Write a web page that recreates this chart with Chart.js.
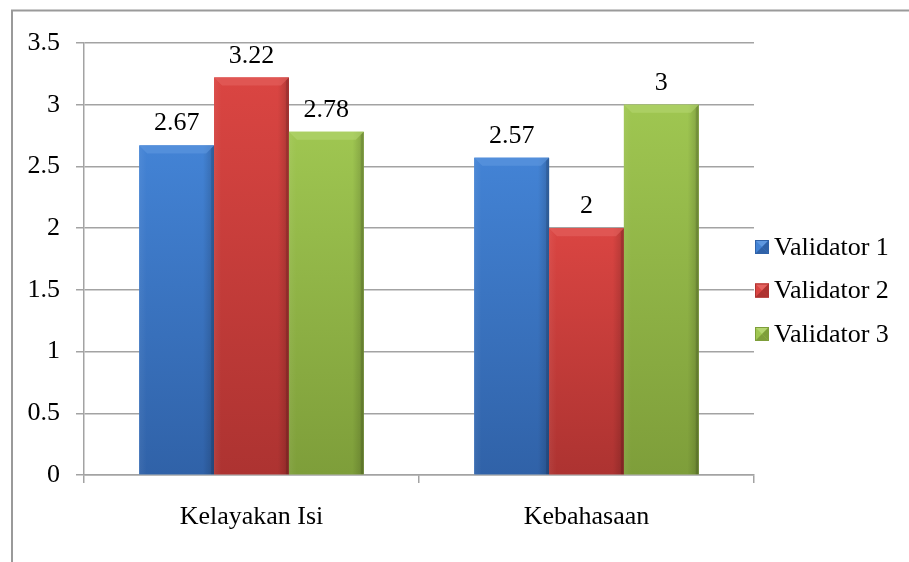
<!DOCTYPE html>
<html lang="id">
<head>
<meta charset="UTF-8" />
<title>Hasil Validasi</title>
<script src="https://cdn.jsdelivr.net/npm/chart.js@4.4.1/dist/chart.umd.min.js"></script>
<style>
  html, body { margin: 0; padding: 0; background: #fff; }
  #wrap { width: 909px; height: 562px; }
</style>
</head>
<body>
<div id="wrap"><canvas id="chart" width="909" height="562"></canvas></div>
<script>
const categories = ["Kelayakan Isi", "Kebahasaan"];
const seriesNames = ["Validator 1", "Validator 2", "Validator 3"];
const validator1 = [2.67, 2.57];
const validator2 = [3.22, 2];
const validator3 = [2.78, 3];

// top / bottom shades for each series
const shades = [
  { top: "#4383d5", bottom: "#3062a8", light: "#5f98e0" },
  { top: "#da4542", bottom: "#ad3331", light: "#e4625f" },
  { top: "#9fc651", bottom: "#7e9e3a", light: "#b4d570" },
];

const FONT = "'Liberation Serif', 'Times New Roman', serif";
const FONT_SIZE = 26;
const GRID = "#a3a3a3";

// gray frame along the top and left edges
const framePlugin = {
  id: "frame",
  beforeDraw(chart) {
    const c = chart.ctx;
    c.save();
    c.strokeStyle = "#9a9a9a";
    c.lineWidth = 2;
    c.beginPath();
    c.moveTo(12, chart.height);
    c.lineTo(12, 10.5);
    c.lineTo(chart.width, 10.5);
    c.stroke();
    c.restore();
  }
};

// bevelled, shaded bars
const bevelPlugin = {
  id: "bevel",
  afterDatasetsDraw(chart) {
    const c = chart.ctx;
    chart.data.datasets.forEach((ds, di) => {
      const s = shades[di];
      chart.getDatasetMeta(di).data.forEach(bar => {
        const l = bar.x - bar.width / 2, r = bar.x + bar.width / 2;
        const t = bar.y, b = bar.base;
        const bv = 8;
        c.save();
        let g = c.createLinearGradient(0, t, 0, b);
        g.addColorStop(0, s.top);
        g.addColorStop(1, s.bottom);
        c.fillStyle = g;
        c.fillRect(l, t, r - l, b - t);
        // side shading
        g = c.createLinearGradient(l, 0, r, 0);
        g.addColorStop(0, "rgba(255,255,255,0.06)");
        g.addColorStop(0.1, "rgba(255,255,255,0)");
        g.addColorStop(0.85, "rgba(0,0,0,0)");
        g.addColorStop(1, "rgba(0,0,0,0.18)");
        c.fillStyle = g;
        c.fillRect(l, t, r - l, b - t);
        // top bevel
        c.fillStyle = s.light;
        c.globalAlpha = 0.6;
        c.beginPath();
        c.moveTo(l, t);
        c.lineTo(r, t);
        c.lineTo(r - bv, t + bv);
        c.lineTo(l + bv, t + bv);
        c.closePath();
        c.fill();
        c.globalAlpha = 1;
        // right edge darker strip
        c.fillStyle = "rgba(0,0,0,0.12)";
        c.beginPath();
        c.moveTo(r, t);
        c.lineTo(r, b);
        c.lineTo(r - 3, b);
        c.lineTo(r - 3, t + 3);
        c.closePath();
        c.fill();
        c.restore();
      });
    });
  }
};

// value labels above each bar
const valuePlugin = {
  id: "values",
  afterDatasetsDraw(chart) {
    const c = chart.ctx;
    c.save();
    c.font = FONT_SIZE + "px " + FONT;
    c.fillStyle = "#000";
    c.textAlign = "center";
    c.textBaseline = "alphabetic";
    chart.data.datasets.forEach((ds, di) => {
      chart.getDatasetMeta(di).data.forEach((bar, i) => {
        c.fillText(String(ds.data[i]), bar.x, bar.y - 15);
      });
    });
    c.restore();
  }
};

// legend on the right with small pyramid squares
const legendPlugin = {
  id: "sideLegend",
  afterDraw(chart) {
    const c = chart.ctx;
    const x = chart.chartArea.right + 1;
    const size = 14;
    c.save();
    c.font = FONT_SIZE + "px " + FONT;
    c.textBaseline = "middle";
    chart.data.datasets.forEach((ds, di) => {
      const cy = 247 + di * 43.5;
      const s = shades[di];
      const t = cy - size / 2, l = x;
      c.fillStyle = s.top;
      c.fillRect(l, t, size, size);
      const tri = (pts, col) => {
        c.fillStyle = col;
        c.beginPath();
        c.moveTo(pts[0], pts[1]);
        for (let k = 2; k < pts.length; k += 2) c.lineTo(pts[k], pts[k + 1]);
        c.closePath();
        c.fill();
      };
      const m = size / 2;
      tri([l, t, l + size, t, l + m, t + m], s.light);
      tri([l, t + size, l + size, t + size, l + m, t + m], s.bottom);
      tri([l + size, t, l + size, t + size, l + m, t + m], s.bottom);
      c.strokeStyle = s.bottom;
      c.lineWidth = 1;
      c.strokeRect(l + 0.5, t + 0.5, size - 1, size - 1);
      c.fillStyle = "#000";
      c.fillText(ds.label, l + size + 5, cy + 1);
    });
    c.restore();
  }
};

new Chart(document.getElementById("chart"), {
  type: "bar",
  data: {
    labels: categories,
    datasets: [
      { label: seriesNames[0], data: validator1, backgroundColor: shades[0].top },
      { label: seriesNames[1], data: validator2, backgroundColor: shades[1].top },
      { label: seriesNames[2], data: validator3, backgroundColor: shades[2].top },
    ],
  },
  options: {
    responsive: false,
    animation: false,
    devicePixelRatio: 1,
    layout: { padding: { left: 0, top: 43, right: 155, bottom: 0 } },
    datasets: { bar: { barPercentage: 1, categoryPercentage: 0.67 } },
    plugins: {
      legend: { display: false },
      tooltip: { enabled: false },
    },
    scales: {
      x: {
        afterFit(scale) { scale.height = 87; },
        grid: { offset: true, drawOnChartArea: false, drawTicks: true, tickLength: 8, color: GRID, lineWidth: 1.5 },
        border: { color: GRID, width: 1.5 },
        ticks: { color: "#000", font: { family: FONT, size: FONT_SIZE }, padding: 19 },
      },
      y: {
        min: 0,
        max: 3.5,
        afterFit(scale) { scale.width = 84; },
        grid: { color: GRID, lineWidth: 1.5, tickLength: 8 },
        border: { color: GRID, width: 1.5 },
        ticks: {
          stepSize: 0.5,
          color: "#000",
          font: { family: FONT, size: FONT_SIZE },
          padding: 16,
          callback: v => String(v),
        },
      },
    },
  },
  plugins: [framePlugin, bevelPlugin, valuePlugin, legendPlugin],
});
</script>
</body>
</html>
